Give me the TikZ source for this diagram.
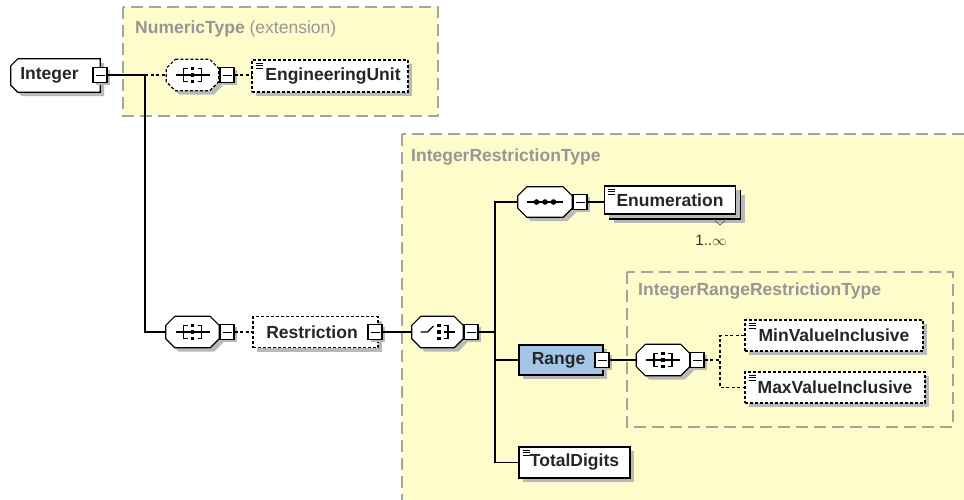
\documentclass[tikz,border=0pt]{standalone}
\usepackage{fontspec}
\setmainfont{Liberation Sans}
\usetikzlibrary{shadows}
\definecolor{typefill}{RGB}{255,252,204}
\definecolor{typeline}{RGB}{165,165,160}
\definecolor{typetext}{RGB}{150,150,150}
\definecolor{rangeblue}{RGB}{163,197,232}
\definecolor{shadecol}{RGB}{185,185,185}
\newcommand\xoct[3][]{%
  \path[#1] ([xshift=#3]#2.north west) -- ([xshift=-#3]#2.north east) -- ([yshift=-#3]#2.north east)
    -- ([yshift=#3]#2.south east) -- ([xshift=-#3]#2.south east) -- ([xshift=#3]#2.south west)
    -- ([yshift=#3]#2.south west) -- ([yshift=-#3]#2.north west) -- cycle;}
\tikzset{
  every node/.style={font=\fontsize{17.5}{20}\selectfont\bfseries, text=black!85},
  typebox/.style={draw=typeline, fill=typefill, line width=1.4pt, dash pattern=on 12pt off 6pt},
  typelabel/.style={anchor=west, font=\fontsize{17.5}{20}\selectfont\bfseries, text=typetext, inner sep=0},
  shad/.style={drop shadow={shadow xshift=4pt, shadow yshift=-4pt, fill=shadecol, opacity=1}},
  smallshad/.style={drop shadow={shadow xshift=2.5pt, shadow yshift=-2.5pt, fill=shadecol, opacity=1}},
  elem/.style={draw, line width=1.2pt, fill=white, rectangle, inner sep=0, shad},
  optelem/.style={elem, dash pattern=on 3pt off 2pt},
  ico/.style={path picture={
      \foreach \k in {3pt,5.5pt,8pt}
        \draw[solid, line width=0.8pt] ([xshift=3.5pt,yshift=-\k]path picture bounding box.north west) -- ++(7,0);}},
  geom/.style={rectangle, draw=none, inner sep=0},
  compline/.style={draw, line width=1.2pt, fill=white, shad},
  optcompline/.style={compline, dash pattern=on 3pt off 2pt},
  minus/.style={draw, fill=white, line width=1.1pt, rectangle, minimum width=14pt, minimum height=14.5pt, inner sep=0, smallshad,
      path picture={\draw[line width=1pt] ([xshift=2.5pt]path picture bounding box.west) -- ([xshift=-2.5pt]path picture bounding box.east);}},
  conn/.style={line width=1.3pt},
  dconn/.style={line width=1.3pt, dash pattern=on 3pt off 2.5pt},
  seqicon/.pic={
    \draw[line width=1.1pt] (-17,0) -- (17,0);
    \draw[line width=1.1pt] (-5,-6.5) -- (-9,-6.5) -- (-9,6.5) -- (-5,6.5);
    \draw[line width=1.1pt] (5,-6.5) -- (9,-6.5) -- (9,6.5) -- (5,6.5);
    \fill (-1.6,-8.1) rectangle (1.6,-4.9);
    \fill (-1.6,-1.6) rectangle (1.6,1.6);
    \fill (-1.6,4.9) rectangle (1.6,8.1);
  },
  choiceicon/.pic={
    \draw[line width=1.1pt] (-17,0) -- (-10,0) -- (-4,-6);
    \fill (-0.1,-8.1) rectangle (3.1,-4.9);
    \fill (-0.1,-1.6) rectangle (3.1,1.6);
    \fill (-0.1,4.9) rectangle (3.1,8.1);
    \draw[line width=1.1pt] (6,-6.5) -- (10.5,-6.5) -- (10.5,6.5) -- (6,6.5);
    \draw[line width=1.1pt] (6,0) -- (17,0);
  },
  enumicon/.pic={
    \draw[line width=1.1pt] (-18,0) -- (18,0);
    \fill (-8.5,0) circle (2.8);
    \fill (0,0) circle (2.8);
    \fill (8.5,0) circle (2.8);
  }
}
\begin{document}
\begin{tikzpicture}[x=1pt,y=-1pt]
\useasboundingbox (0,0) rectangle (964,499);
\clip (0,0) rectangle (964,499);
% type containers
\draw[typebox] (123,7) rectangle (438,116);
\node[typelabel] (numlbl) at (135,29) {NumericType \mdseries(extension)};
\draw[typebox] (402,134) rectangle (990,520);
\node[typelabel] (irlbl) at (411,157) {IntegerRestrictionType};
\draw[typebox] (627,272) rectangle (953,427);
\node[typelabel] (irrlbl) at (638,291) {IntegerRangeRestrictionType};

% top row
\node[geom, minimum width=89pt, minimum height=33pt] (integer) at (55.5,75.5) {};
\path[compline] ([xshift=7pt]integer.north west) -- (integer.north east) -- (integer.south east)
   -- ([xshift=7pt]integer.south west) -- ([yshift=7pt]integer.south west) -- ([yshift=-7pt]integer.north west) -- cycle;
\node[inner sep=0] (integertext) at ([xshift=-6pt]integer.center) {Integer};
\node[minus] (m0) at (100,75) {};
\node[geom, minimum width=52pt, minimum height=31pt] (seqA) at (192.5,75) {};
\xoct[optcompline]{seqA}{9pt}
\pic at (seqA) {seqicon};
\node[minus] (mA) at (227,75) {};
\node[optelem, ico, minimum width=156pt, minimum height=32pt] (eng) at (330,76) {\kern6pt EngineeringUnit};

\coordinate (jA) at (145,75);
\coordinate (jB) at (145,332);
\draw[conn] (m0.east) -- (jA);
\draw[dconn] (jA) -- (seqA.west);
\draw[dconn] (mA.east) -- (mA.east -| eng.west);

% restriction row
\node[geom, minimum width=53pt, minimum height=31pt] (seqB) at (192.5,332) {};
\xoct[compline]{seqB}{9pt}
\pic at (seqB) {seqicon};
\node[minus] (mB) at (227,332) {};
\node[optelem, minimum width=125pt, minimum height=31pt] (restr) at (315.5,332) {\kern-7pt Restriction};
\node[minus] (mR) at (375,332) {};
\node[geom, minimum width=51pt, minimum height=31pt] (choice) at (437.5,332) {};
\xoct[compline]{choice}{9pt}
\pic at (choice) {choiceicon};
\node[minus] (mC) at (471,332) {};
\draw[conn] (jA) -- (jB) -- (seqB.west);
\draw[dconn] (mB.east) -- (restr.west);
\draw[conn] (mR.east) -- (choice.west);

\coordinate (jC) at (495,332);
\coordinate (jTop) at (495,202);
\coordinate (jBot) at (495,462.5);
\coordinate (jMid) at (495,360);
\draw[conn] (mC.east) -- (jC);

% enumeration
\node[geom, minimum width=54pt, minimum height=30pt] (enumseq) at (545,202) {};
\xoct[compline]{enumseq}{9pt}
\pic at (enumseq) {enumicon};
\node[minus] (mE) at (580,202) {};
\node[elem, minimum width=131pt, minimum height=28pt] (enumback) at (675,205) {};
\node[elem, ico, minimum width=131pt, minimum height=28pt] (enum) at (670,200) {Enumeration};
\draw[line width=0.8pt, draw=black!60] (714,219.5) -- (720,225) -- (726,219.5);
\node[font=\fontsize{15}{18}\selectfont, text=black!80, inner sep=0] (mult) at (711,240) {1..\(\infty\)};

% range
\node[elem, fill=rangeblue, minimum width=84pt, minimum height=30pt] (range) at (561,360) {\kern-5pt Range};
\node[minus] (mRa) at (602,360) {};
\node[geom, minimum width=53pt, minimum height=31pt] (rseq) at (663,360) {};
\xoct[compline]{rseq}{9pt}
\pic at (rseq) {seqicon};
\node[minus] (mRs) at (697,360) {};
\coordinate (jR) at (720,360);
\node[optelem, ico, minimum width=178pt, minimum height=31pt] (minv) at (834,335.5) {MinValueInclusive};
\node[optelem, ico, minimum width=180pt, minimum height=31pt] (maxv) at (835,387.5) {MaxValueInclusive};

% total digits
\node[elem, ico, minimum width=111pt, minimum height=31pt] (total) at (574.5,462.5) {TotalDigits};

\draw[conn] (enumseq.west) -- (jTop) -- (jBot) -- (jBot -| total.west);
\draw[conn] (mE.east) -- (mE.east -| enum.west);
\draw[conn] (jMid) -- (range.west);
\draw[conn] (mRa.east) -- (rseq.west);
\draw[dconn] (mRs.east) -- (jR);
\draw[dconn] (minv.west) -| (jR) |- (maxv.west);
\end{tikzpicture}
\end{document}
